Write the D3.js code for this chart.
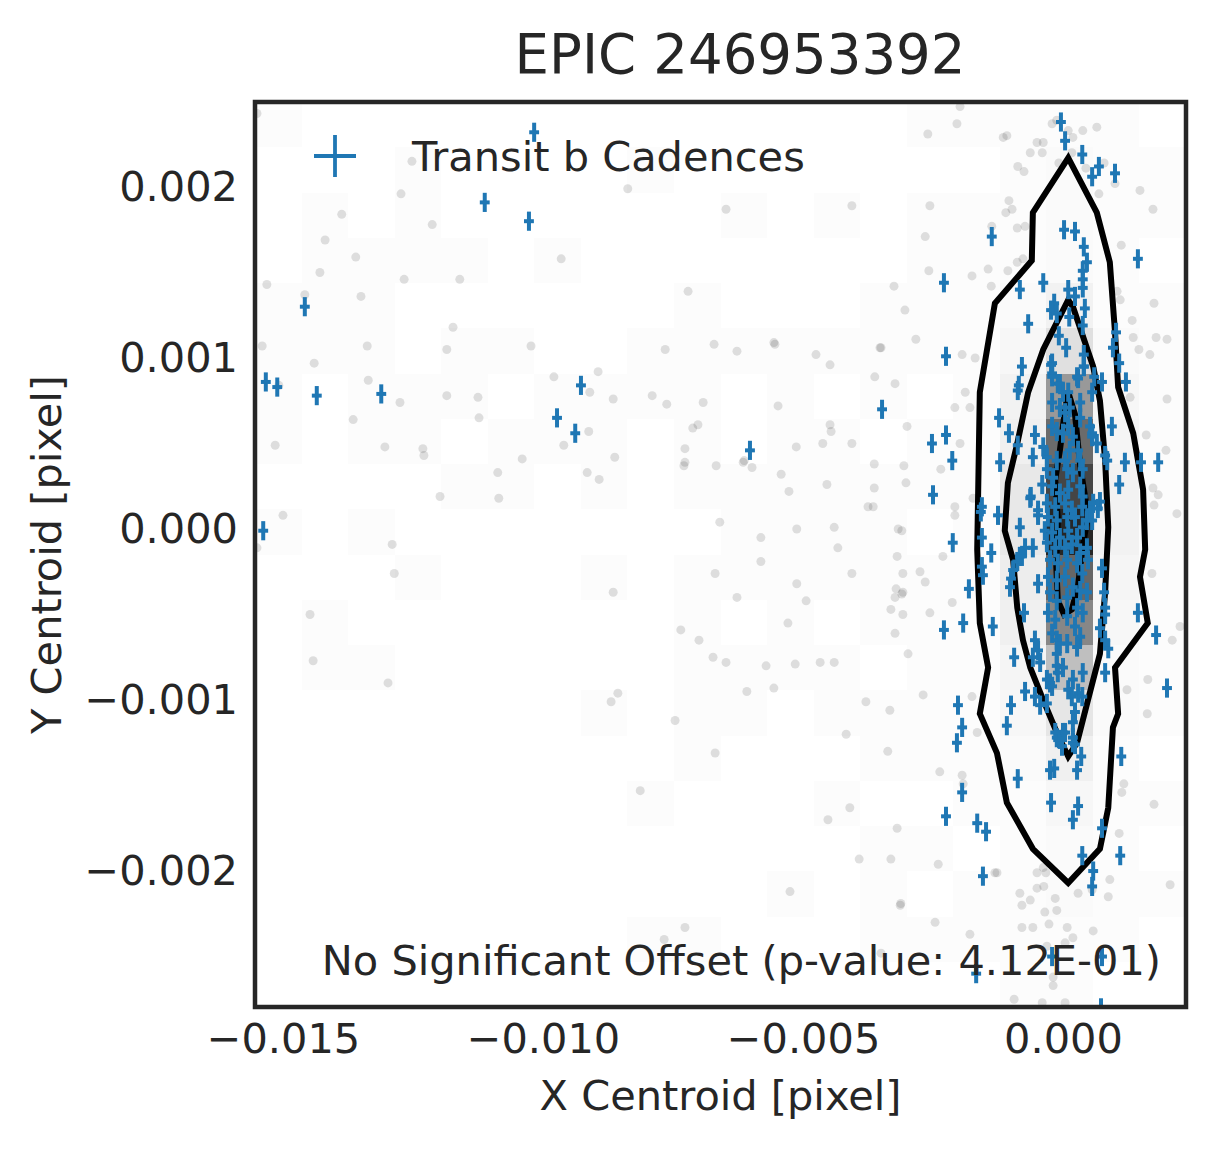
<!DOCTYPE html>
<html>
<head>
<meta charset="utf-8">
<script src="https://cdn.jsdelivr.net/npm/d3@7"></script>
<style>
  body { margin: 0; background: #fff; }
  text { font-family: "DejaVu Sans", sans-serif; fill: #262626; }
</style>
</head>
<body>
<div id="chart"></div>
<script>
// ---- data (centroid offsets in pixel) ----
const title = "EPIC 246953392";
const xLabel = "X Centroid [pixel]";
const yLabel = "Y Centroid [pixel]";
const legendLabel = "Transit b Cadences";
const note = "No Significant Offset (p-value: 4.12E-01)";

const xDomain = [-0.015538, 0.002365];
const yDomain = [-0.002795, 0.002497];
const xTicks = [-0.015, -0.010, -0.005, 0.000];
const yTicks = [-0.002, -0.001, 0.000, 0.001, 0.002];

// 2d histogram of all cadences, 20 x 20 bins, first row = top
const histCounts = [
  [1,0,0,0,0,0,0,0,0,0,0,0,0,0,1,1,1,1,1,0],
  [0,0,0,1,0,0,0,0,1,0,0,0,0,0,0,0,1,2,1,1],
  [0,1,0,1,0,0,0,0,0,0,1,0,1,0,1,1,1,2,1,1],
  [0,1,1,1,1,0,1,0,0,0,0,0,0,0,1,1,1,2,1,0],
  [1,1,1,0,0,0,0,0,0,1,0,0,0,1,1,1,2,5,1,1],
  [1,1,1,0,1,1,0,0,1,1,1,1,1,1,1,1,3,12,2,1],
  [1,0,1,1,1,0,1,1,1,1,0,1,0,1,0,1,5,40,3,1],
  [1,0,1,1,0,1,1,1,0,1,0,1,1,0,1,1,6,58,4,1],
  [0,0,0,0,1,1,0,1,0,1,1,1,1,1,1,1,9,73,5,1],
  [1,0,1,0,0,0,0,0,0,0,1,1,1,1,0,1,9,85,5,1],
  [0,0,0,1,0,0,0,1,0,1,1,1,1,1,1,1,7,60,4,1],
  [0,1,0,0,0,0,0,0,0,1,0,1,0,1,1,1,6,47,3,1],
  [0,1,1,0,0,0,0,0,0,1,1,1,1,0,1,1,4,25,2,1],
  [0,0,0,0,0,0,0,1,0,1,1,0,1,1,1,1,3,10,2,1],
  [0,0,0,0,0,0,0,0,0,1,0,0,0,1,1,1,2,6,1,0],
  [0,0,0,0,0,0,0,0,1,0,0,0,1,0,0,1,1,3,1,1],
  [0,0,0,0,0,0,0,0,0,0,0,0,0,1,1,0,1,2,1,0],
  [0,0,0,0,0,0,0,0,0,0,0,1,0,1,0,1,1,2,1,1],
  [0,0,0,0,0,0,0,0,1,1,0,0,0,1,1,1,1,1,1,0],
  [0,0,0,0,0,0,0,0,0,0,0,0,0,0,0,0,1,1,0,0]
];

// all cadences (grey)
const grayPts = [
  [-1550e-5,243e-5],[-1252e-5,215e-5],[-1273e-5,196e-5],[-1387e-5,184e-5],[-1213e-5,178e-5],
  [-1419e-5,169e-5],[-1360e-5,159e-5],[-1429e-5,150e-5],[-1267e-5,146e-5],[-1160e-5,146e-5],
  [-965e-5,158e-5],[-837e-5,199e-5],[-1531e-5,143e-5],[-1458e-5,137e-5],[-1350e-5,136e-5],
  [-1173e-5,118e-5],[-1540e-5,107e-5],[-1338e-5,107e-5],[-1185e-5,105e-5],[-1023e-5,107e-5],
  [-1440e-5,97e-5],[-1336e-5,87e-5],[-979e-5,89e-5],[-894e-5,92e-5],[-1508e-5,84e-5],
  [-1185e-5,78e-5],[-1125e-5,77e-5],[-910e-5,80e-5],[-865e-5,76e-5],[-1275e-5,74e-5],
  [-1123e-5,65e-5],[-1365e-5,64e-5],[-912e-5,57e-5],[-960e-5,49e-5],[-1515e-5,49e-5],
  [-1304e-5,48e-5],[-1231e-5,47e-5],[-1229e-5,43e-5],[-1040e-5,41e-5],[-1087e-5,33e-5],
  [-915e-5,33e-5],[-1198e-5,19e-5],[-1085e-5,18e-5],[-1500e-5,8e-5],[-1550e-5,-11e-5],
  [-1290e-5,-9e-5],[-1286e-5,-26e-5],[-1448e-5,-50e-5],[-1442e-5,-77e-5],[-1298e-5,-90e-5],
  [-648e-5,187e-5],[-406e-5,189e-5],[-721e-5,139e-5],[-325e-5,142e-5],[-304e-5,128e-5],
  [-765e-5,105e-5],[-671e-5,108e-5],[-627e-5,104e-5],[-556e-5,109e-5],[-554e-5,108e-5],
  [-475e-5,102e-5],[-448e-5,96e-5],[-352e-5,106e-5],[-350e-5,106e-5],[-790e-5,78e-5],
  [-762e-5,73e-5],[-692e-5,74e-5],[-548e-5,72e-5],[-362e-5,89e-5],[-323e-5,85e-5],
  [-702e-5,61e-5],[-712e-5,59e-5],[-448e-5,61e-5],[-446e-5,57e-5],[-300e-5,60e-5],
  [-862e-5,42e-5],[-892e-5,29e-5],[-727e-5,47e-5],[-727e-5,39e-5],[-729e-5,37e-5],
  [-667e-5,37e-5],[-613e-5,40e-5],[-615e-5,39e-5],[-598e-5,36e-5],[-513e-5,48e-5],
  [-462e-5,50e-5],[-406e-5,50e-5],[-542e-5,32e-5],[-527e-5,22e-5],[-454e-5,26e-5],
  [-363e-5,38e-5],[-306e-5,37e-5],[-363e-5,24e-5],[-302e-5,27e-5],[-375e-5,13e-5],
  [-365e-5,13e-5],[-660e-5,4e-5],[-581e-5,-5e-5],[-512e-5,0],[-440e-5,1e-5],
  [-433e-5,-11e-5],[-317e-5,0],[-310e-5,-1e-5],[-581e-5,-19e-5],[-669e-5,-26e-5],
  [-512e-5,-32e-5],[-406e-5,-26e-5],[-319e-5,-16e-5],[-308e-5,-26e-5],[-321e-5,-35e-5],
  [-310e-5,-38e-5],[-323e-5,-40e-5],[-865e-5,-37e-5],[-627e-5,-40e-5],[-494e-5,-42e-5],
  [-331e-5,-47e-5],[-308e-5,-50e-5],[-529e-5,-55e-5],[-735e-5,-59e-5],[-700e-5,-65e-5],
  [-323e-5,-61e-5],[-298e-5,-73e-5],[-673e-5,-75e-5],[-648e-5,-78e-5],[-571e-5,-80e-5],
  [-515e-5,-79e-5],[-467e-5,-78e-5],[-440e-5,-78e-5],[-856e-5,-96e-5],[-869e-5,-101e-5],
  [-608e-5,-95e-5],[-556e-5,-93e-5],[-379e-5,-101e-5],[-333e-5,-106e-5],[-746e-5,-112e-5],
  [-417e-5,-120e-5],[-669e-5,-131e-5],[-337e-5,-130e-5],[-813e-5,-153e-5],[-410e-5,-163e-5],
  [-452e-5,-170e-5],[-319e-5,-175e-5],[-392e-5,-193e-5],[-331e-5,-193e-5],[-525e-5,-212e-5],
  [-312e-5,-219e-5],[-727e-5,-233e-5],[-767e-5,-240e-5],[-350e-5,-248e-5],[-198e-5,247e-5],
  [-204e-5,237e-5],[-260e-5,231e-5],[-115e-5,229e-5],[-108e-5,230e-5],[-21e-5,237e-5],
  [-12e-5,239e-5],[10e-5,233e-5],[19e-5,229e-5],[38e-5,233e-5],[-50e-5,226e-5],
  [-38e-5,226e-5],[-63e-5,220e-5],[-40e-5,220e-5],[65e-5,235e-5],[17e-5,220e-5],
  [-87e-5,212e-5],[-75e-5,209e-5],[-8e-5,214e-5],[44e-5,211e-5],[79e-5,214e-5],
  [148e-5,198e-5],[69e-5,196e-5],[100e-5,202e-5],[-256e-5,189e-5],[-104e-5,192e-5],
  [-98e-5,187e-5],[-110e-5,185e-5],[173e-5,187e-5],[-265e-5,171e-5],[-137e-5,177e-5],
  [-88e-5,176e-5],[-73e-5,177e-5],[112e-5,166e-5],[-258e-5,151e-5],[-175e-5,148e-5],
  [-144e-5,152e-5],[-106e-5,151e-5],[-88e-5,156e-5],[-77e-5,158e-5],[-138e-5,142e-5],
  [104e-5,139e-5],[110e-5,134e-5],[175e-5,132e-5],[133e-5,122e-5],[-283e-5,111e-5],
  [135e-5,112e-5],[179e-5,112e-5],[200e-5,111e-5],[-194e-5,102e-5],[-169e-5,100e-5],
  [146e-5,105e-5],[167e-5,102e-5],[-188e-5,80e-5],[129e-5,77e-5],[200e-5,76e-5],
  [-208e-5,71e-5],[-179e-5,71e-5],[-198e-5,50e-5],[160e-5,55e-5],[198e-5,46e-5],
  [-235e-5,35e-5],[173e-5,24e-5],[183e-5,20e-5],[-173e-5,18e-5],[-208e-5,13e-5],
  [-208e-5,8e-5],[175e-5,14e-5],[219e-5,9e-5],[-275e-5,-25e-5],[-265e-5,-31e-5],
  [-231e-5,-16e-5],[-256e-5,-49e-5],[-213e-5,-43e-5],[171e-5,-26e-5],[210e-5,-65e-5],
  [225e-5,-57e-5],[-269e-5,-97e-5],[-175e-5,-98e-5],[-165e-5,-119e-5],[163e-5,-88e-5],
  [123e-5,-94e-5],[162e-5,-108e-5],[-237e-5,-142e-5],[-194e-5,-144e-5],[-192e-5,-149e-5],
  [117e-5,-149e-5],[113e-5,-154e-5],[175e-5,-161e-5],[108e-5,-178e-5],[-240e-5,-196e-5],
  [-131e-5,-201e-5],[-127e-5,-201e-5],[206e-5,-208e-5],[-313e-5,-220e-5],[-246e-5,-230e-5],
  [-179e-5,-237e-5],[-83e-5,-213e-5],[-63e-5,-217e-5],[-50e-5,-210e-5],[-37e-5,-209e-5],
  [-50e-5,-201e-5],[-33e-5,-201e-5],[-15e-5,-216e-5],[29e-5,-213e-5],[56e-5,-211e-5],
  [87e-5,-215e-5],[90e-5,-205e-5],[-79e-5,-233e-5],[-58e-5,-233e-5],[-35e-5,-224e-5],
  [-12e-5,-223e-5],[8e-5,-233e-5],[19e-5,-239e-5],[58e-5,-235e-5],[-19e-5,-262e-5],
  [-19e-5,-267e-5],[4e-5,-277e-5],[-40e-5,-277e-5],[4e-5,-242e-5],[-31e-5,-244e-5],
  [-79e-5,-220e-5],[-27e-5,-231e-5],[-38e-5,-198e-5],[-308e-5,-37e-5],[-94e-5,-275e-5]
];

// in-transit cadences (blue, with error bars)
const transitPts = [
  [-1017e-5,232e-5],[-1112e-5,191e-5],[-1027e-5,180e-5],[-1458e-5,130e-5],[-1533e-5,86e-5],
  [-1511e-5,83e-5],[-1435e-5,78e-5],[-1311e-5,79e-5],[-927e-5,84e-5],[-973e-5,65e-5],
  [-938e-5,56e-5],[-1538e-5,-1e-5],[-602e-5,46e-5],[-348e-5,70e-5],[-4e-5,238e-5],
  [4e-5,227e-5],[37e-5,219e-5],[69e-5,212e-5],[56e-5,206e-5],[100e-5,208e-5],
  [-137e-5,171e-5],[2e-5,175e-5],[23e-5,174e-5],[40e-5,165e-5],[144e-5,158e-5],
  [46e-5,156e-5],[38e-5,151e-5],[38e-5,146e-5],[38e-5,141e-5],[-229e-5,144e-5],
  [-38e-5,144e-5],[-83e-5,140e-5],[10e-5,140e-5],[23e-5,136e-5],[-17e-5,132e-5],
  [-23e-5,128e-5],[-12e-5,126e-5],[42e-5,129e-5],[38e-5,119e-5],[12e-5,124e-5],
  [-67e-5,120e-5],[102e-5,115e-5],[96e-5,106e-5],[-8e-5,113e-5],[6e-5,106e-5],
  [-225e-5,101e-5],[40e-5,102e-5],[40e-5,95e-5],[108e-5,97e-5],[-79e-5,95e-5],
  [-85e-5,84e-5],[-87e-5,81e-5],[-21e-5,97e-5],[-21e-5,91e-5],[29e-5,88e-5],
  [60e-5,89e-5],[75e-5,86e-5],[121e-5,86e-5],[-10e-5,85e-5],[0,80e-5],
  [56e-5,80e-5],[-123e-5,65e-5],[-104e-5,56e-5],[94e-5,60e-5],[-225e-5,55e-5],
  [-252e-5,50e-5],[-213e-5,40e-5],[-54e-5,55e-5],[-87e-5,49e-5],[-121e-5,39e-5],
  [-58e-5,42e-5],[56e-5,56e-5],[65e-5,50e-5],[85e-5,40e-5],[119e-5,39e-5],
  [150e-5,39e-5],[183e-5,39e-5],[108e-5,26e-5],[-250e-5,20e-5],[-158e-5,10e-5],
  [-125e-5,8e-5],[71e-5,16e-5],[-63e-5,18e-5],[-212e-5,-8e-5],[-156e-5,-5e-5],
  [-156e-5,-22e-5],[-154e-5,-27e-5],[-138e-5,-14e-5],[-181e-5,-35e-5],[-192e-5,-55e-5],
  [-229e-5,-59e-5],[-135e-5,-57e-5],[75e-5,-23e-5],[79e-5,-37e-5],[81e-5,-50e-5],
  [81e-5,-46e-5],[71e-5,-58e-5],[81e-5,-65e-5],[87e-5,-70e-5],[144e-5,-49e-5],
  [179e-5,-62e-5],[200e-5,-93e-5],[-100e-5,-29e-5],[-102e-5,-34e-5],[-83e-5,-16e-5],
  [-75e-5,-49e-5],[-48e-5,-32e-5],[-54e-5,-65e-5],[-48e-5,-71e-5],[-58e-5,-75e-5],
  [-94e-5,-75e-5],[-73e-5,-95e-5],[-54e-5,-98e-5],[-31e-5,-102e-5],[-44e-5,-103e-5],
  [-100e-5,-103e-5],[-108e-5,-115e-5],[-202e-5,-103e-5],[-194e-5,-116e-5],[-204e-5,-125e-5],
  [-12e-5,-80e-5],[0,-81e-5],[38e-5,-84e-5],[81e-5,-84e-5],[-25e-5,-90e-5],
  [-31e-5,-88e-5],[19e-5,-88e-5],[17e-5,-98e-5],[29e-5,-96e-5],[-12e-5,-122e-5],
  [0,-119e-5],[-6e-5,-123e-5],[19e-5,-122e-5],[19e-5,-125e-5],[35e-5,-133e-5],
  [112e-5,-133e-5],[-87e-5,-146e-5],[-25e-5,-141e-5],[-17e-5,-140e-5],[27e-5,-141e-5],
  [-194e-5,-154e-5],[-23e-5,-160e-5],[29e-5,-162e-5],[19e-5,-170e-5],[-225e-5,-168e-5],
  [-165e-5,-172e-5],[-148e-5,-177e-5],[75e-5,-175e-5],[37e-5,-191e-5],[110e-5,-191e-5],
  [58e-5,-200e-5],[56e-5,-209e-5],[-154e-5,-203e-5],[-21e-5,-250e-5],[75e-5,-250e-5],
  [-167e-5,-260e-5],[73e-5,-280e-5],
  [-23e-5,96e-5],[-21e-5,89e-5],[-6e-5,85e-5],[10e-5,80e-5],[27e-5,89e-5],
  [40e-5,95e-5],[-21e-5,74e-5],[-6e-5,71e-5],[4e-5,68e-5],[13e-5,71e-5],
  [33e-5,74e-5],[33e-5,65e-5],[-21e-5,60e-5],[-12e-5,57e-5],[0,56e-5],
  [10e-5,60e-5],[19e-5,54e-5],[52e-5,60e-5],[56e-5,54e-5],[-38e-5,48e-5],
  [-31e-5,42e-5],[-12e-5,40e-5],[4e-5,40e-5],[13e-5,46e-5],[29e-5,46e-5],
  [33e-5,40e-5],[-31e-5,35e-5],[-19e-5,30e-5],[8e-5,35e-5],[19e-5,33e-5],
  [38e-5,35e-5],[-40e-5,26e-5],[-21e-5,25e-5],[-6e-5,21e-5],[10e-5,23e-5],
  [33e-5,25e-5],[38e-5,19e-5],[-31e-5,15e-5],[-15e-5,13e-5],[4e-5,15e-5],
  [17e-5,11e-5],[37e-5,13e-5],[52e-5,11e-5],[58e-5,15e-5],[-48e-5,8e-5],
  [-29e-5,7e-5],[-12e-5,5e-5],[8e-5,7e-5],[23e-5,7e-5],[46e-5,5e-5],
  [-35e-5,-1e-5],[-21e-5,-2e-5],[-6e-5,-5e-5],[10e-5,-1e-5],[27e-5,-5e-5],
  [38e-5,1e-5],[-31e-5,-8e-5],[-15e-5,-11e-5],[4e-5,-11e-5],[17e-5,-9e-5],
  [33e-5,-14e-5],[46e-5,-11e-5],[-25e-5,-18e-5],[-10e-5,-20e-5],[8e-5,-18e-5],
  [27e-5,-20e-5],[37e-5,-26e-5],[-29e-5,-28e-5],[-12e-5,-30e-5],[4e-5,-28e-5],
  [19e-5,-34e-5],[33e-5,-36e-5],[46e-5,-37e-5],[-25e-5,-37e-5],[-12e-5,-42e-5],
  [8e-5,-40e-5],[27e-5,-46e-5],[38e-5,-49e-5],[-29e-5,-49e-5],[-15e-5,-53e-5],
  [8e-5,-51e-5],[23e-5,-57e-5],[33e-5,-63e-5],[-21e-5,-61e-5],[-12e-5,-65e-5],
  [8e-5,-67e-5],[27e-5,-69e-5],[-12e-5,-73e-5],
  [-156e-5,13e-5],[-83e-5,1e-5],[-62e-5,19e-5],[-48e-5,11e-5],[-73e-5,-11e-5],
  [-79e-5,-16e-5],[-88e-5,-19e-5],[-96e-5,-24e-5],[-58e-5,-11e-5],[81e-5,43e-5],
  [67e-5,12e-5],[56e-5,5e-5],[48e-5,-18e-5],[-44e-5,-78e-5],[-6e-5,-67e-5],
  [-10e-5,-84e-5],[-21e-5,-92e-5],[10e-5,-94e-5],[37e-5,-98e-5],[23e-5,-107e-5],
  [19e-5,-113e-5],[-15e-5,-119e-5],[-2e-5,-127e-5],[4e-5,-119e-5],[23e-5,-126e-5]
];
const xErr = 9.5e-5;
const yErr = 5.6e-5;

// density contours of the in-transit cadences
const contourOuter = [
  [10e-5,217e-5],[65e-5,185e-5],[90e-5,156e-5],[100e-5,115e-5],[106e-5,83e-5],
  [135e-5,56e-5],[154e-5,23e-5],[158e-5,-12e-5],[148e-5,-28e-5],[163e-5,-55e-5],
  [100e-5,-81e-5],[106e-5,-108e-5],[96e-5,-116e-5],[87e-5,-163e-5],[71e-5,-187e-5],
  [10e-5,-207e-5],[-58e-5,-187e-5],[-108e-5,-160e-5],[-127e-5,-131e-5],[-160e-5,-108e-5],
  [-144e-5,-81e-5],[-160e-5,-55e-5],[-165e-5,-12e-5],[-160e-5,80e-5],[-131e-5,132e-5],
  [-60e-5,157e-5],[-58e-5,185e-5]
];
const contourMiddle = [
  [10e-5,134e-5],[19e-5,130e-5],[58e-5,95e-5],[71e-5,75e-5],[81e-5,40e-5],
  [87e-5,1e-5],[81e-5,-37e-5],[71e-5,-73e-5],[48e-5,-100e-5],[27e-5,-125e-5],
  [10e-5,-133e-5],[-12e-5,-119e-5],[-38e-5,-100e-5],[-63e-5,-81e-5],[-77e-5,-65e-5],
  [-88e-5,-46e-5],[-96e-5,-18e-5],[-112e-5,-1e-5],[-106e-5,27e-5],[-88e-5,50e-5],
  [-67e-5,80e-5],[-38e-5,105e-5]
];
const contourInner = [
  [10e-5,80e-5],[23e-5,67e-5],[33e-5,37e-5],[48e-5,8e-5],[37e-5,-12e-5],
  [29e-5,-33e-5],[17e-5,-47e-5],[2e-5,-50e-5],[-10e-5,-42e-5],[-13e-5,-21e-5],
  [-10e-5,5e-5],[-15e-5,29e-5],[-6e-5,46e-5],[4e-5,70e-5]
];

// ---- drawing ----
const width = 1215, height = 1149;
const plot = { left: 255, right: 1186, top: 102, bottom: 1007 };
const fontSize = 41.5;
const blue = "#1f77b4";

const svg = d3.select("#chart").append("svg")
    .attr("width", width)
    .attr("height", height)
    .style("background", "#fff");

const x = d3.scaleLinear().domain(xDomain).range([plot.left, plot.right]);
const y = d3.scaleLinear().domain(yDomain).range([plot.bottom, plot.top]);

svg.append("clipPath").attr("id", "clip")
  .append("rect")
    .attr("x", plot.left).attr("y", plot.top)
    .attr("width", plot.right - plot.left)
    .attr("height", plot.bottom - plot.top);

const inner = svg.append("g").attr("clip-path", "url(#clip)");

// histogram cells
const nx = histCounts[0].length, ny = histCounts.length;
const xEdges = d3.range(nx + 1).map(i => xDomain[0] + i * (xDomain[1] - xDomain[0]) / nx);
const yEdges = d3.range(ny + 1).map(i => yDomain[1] - i * (yDomain[1] - yDomain[0]) / ny);
const shade = d3.scaleLinear().domain([0, 100]).range(["#ffffff", "#000000"]);

const cells = [];
histCounts.forEach((row, r) => row.forEach((c, k) => {
  if (c > 0) cells.push({ r, k, c });
}));

inner.selectAll(".cell")
  .data(cells)
  .enter()
  .append("rect")
    .attr("x", d => x(xEdges[d.k]))
    .attr("y", d => y(yEdges[d.r]))
    .attr("width", d => x(xEdges[d.k + 1]) - x(xEdges[d.k]))
    .attr("height", d => y(yEdges[d.r + 1]) - y(yEdges[d.r]))
    .attr("fill", d => shade(d.c))
    .attr("shape-rendering", "crispEdges");

// grey cadences
inner.selectAll(".gray")
  .data(grayPts)
  .enter()
  .append("circle")
    .attr("cx", d => x(d[0]))
    .attr("cy", d => y(d[1]))
    .attr("r", 4.5)
    .attr("fill", "#000")
    .attr("fill-opacity", 0.12);

// contours
const line = d3.line().x(d => x(d[0])).y(d => y(d[1])).curve(d3.curveLinearClosed);
inner.selectAll(".contour")
  .data([contourOuter, contourMiddle, contourInner])
  .enter()
  .append("path")
    .attr("d", line)
    .attr("fill", "none")
    .attr("stroke", "#000")
    .attr("stroke-width", 6)
    .attr("stroke-linejoin", "miter");

// annotation
svg.append("text")
    .attr("x", 1161)
    .attr("y", 975)
    .attr("text-anchor", "end")
    .attr("font-size", fontSize)
    .text(note);

// transit cadences with error bars
const marks = inner.selectAll(".transit")
  .data(transitPts)
  .enter()
  .append("g")
    .attr("stroke", blue)
    .attr("stroke-width", 4);

marks.append("line")
    .attr("x1", d => x(d[0]))
    .attr("x2", d => x(d[0]))
    .attr("y1", d => y(d[1] - yErr))
    .attr("y2", d => y(d[1] + yErr));

marks.append("line")
    .attr("x1", d => x(d[0] - xErr))
    .attr("x2", d => x(d[0] + xErr))
    .attr("y1", d => y(d[1]))
    .attr("y2", d => y(d[1]));

// axes
const xAxis = svg.append("g")
    .attr("transform", `translate(0,${plot.bottom})`)
    .call(d3.axisBottom(x).tickValues(xTicks).tickFormat(d3.format(".3f")).tickSize(0).tickPadding(17));
const yAxis = svg.append("g")
    .attr("transform", `translate(${plot.left},0)`)
    .call(d3.axisLeft(y).tickValues(yTicks).tickFormat(d3.format(".3f")).tickSize(0).tickPadding(17));

[xAxis, yAxis].forEach(g => {
  g.select(".domain").remove();
  g.attr("font-family", "DejaVu Sans").attr("font-size", fontSize);
  g.selectAll("text").attr("fill", "#262626");
});

// frame
svg.append("rect")
    .attr("x", plot.left).attr("y", plot.top)
    .attr("width", plot.right - plot.left)
    .attr("height", plot.bottom - plot.top)
    .attr("fill", "none")
    .attr("stroke", "#262626")
    .attr("stroke-width", 4.5);

// titles
svg.append("text")
    .attr("x", 740)
    .attr("y", 73)
    .attr("text-anchor", "middle")
    .attr("font-size", 54.5)
    .text(title);

svg.append("text")
    .attr("x", (plot.left + plot.right) / 2)
    .attr("y", 1110)
    .attr("text-anchor", "middle")
    .attr("font-size", fontSize)
    .text(xLabel);

svg.append("text")
    .attr("transform", `translate(61,${(plot.top + plot.bottom) / 2}) rotate(-90)`)
    .attr("text-anchor", "middle")
    .attr("font-size", fontSize)
    .text(yLabel);

// legend
const legend = svg.append("g").attr("stroke", blue).attr("stroke-width", 3.8);
legend.append("line").attr("x1", 314).attr("x2", 356).attr("y1", 156).attr("y2", 156);
legend.append("line").attr("x1", 335).attr("x2", 335).attr("y1", 135).attr("y2", 177);
svg.append("text")
    .attr("x", 412)
    .attr("y", 171)
    .attr("font-size", fontSize)
    .text(legendLabel);
</script>
</body>
</html>
